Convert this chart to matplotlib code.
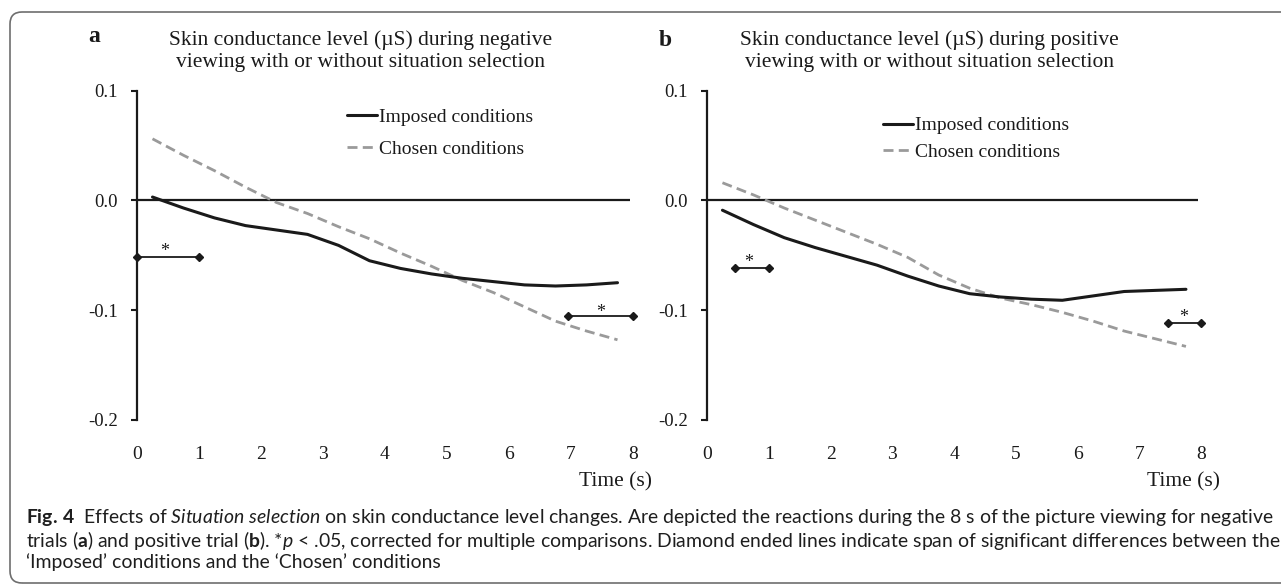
import matplotlib
matplotlib.use("Agg")
import matplotlib.pyplot as plt
from matplotlib.patches import FancyBboxPatch
from matplotlib.transforms import IdentityTransform

# ---------------- data ----------------
time_s = [0.25, 0.75, 1.25, 1.75, 2.25, 2.75, 3.25, 3.75,
          4.25, 4.75, 5.25, 5.75, 6.25, 6.75, 7.25, 7.75]

neg_imposed = [0.003, -0.007, -0.016, -0.023, -0.027, -0.031, -0.041, -0.055,
               -0.062, -0.067, -0.071, -0.074, -0.077, -0.078, -0.077, -0.075]
neg_chosen = [0.056, 0.041, 0.027, 0.012, -0.002, -0.012, -0.024, -0.035,
              -0.048, -0.060, -0.073, -0.084, -0.097, -0.110, -0.119, -0.127]

pos_imposed = [-0.009, -0.022, -0.034, -0.043, -0.051, -0.059, -0.069, -0.078,
               -0.085, -0.088, -0.090, -0.091, -0.087, -0.083, -0.082, -0.081]
pos_chosen = [0.016, 0.005, -0.007, -0.018, -0.029, -0.040, -0.052, -0.068,
              -0.080, -0.089, -0.095, -0.102, -0.110, -0.119, -0.126, -0.133]

x_ticks = [0, 1, 2, 3, 4, 5, 6, 7, 8]
x_tick_labels = ["0", "1", "2", "3", "4", "5", "6", "7", "8"]
y_ticks = [-0.2, -0.1, 0.0, 0.1]
y_tick_labels = ["-0.2", "-0.1", "0.0", "0.1"]
series_labels = ["Imposed conditions", "Chosen conditions"]
x_label = "Time (s)"

# significance spans: (start, end, level) and star positions (x, y)
neg_sig_spans = [(0.0, 1.0, -0.0515), (6.95, 8.0, -0.1055)]
neg_sig_stars = [(0.45, -0.042), (7.47, -0.0976)]
pos_sig_spans = [(0.45, 1.0, -0.062), (7.46, 8.0, -0.1115)]
pos_sig_stars = [(0.67, -0.0515), (7.72, -0.1015)]

panel_letters = ["a", "b"]
titles = [
    ["Skin conductance level (\u00b5S) during negative",
     "viewing with or without situation selection"],
    ["Skin conductance level (\u00b5S) during positive",
     "viewing with or without situation selection"],
]
caption_lines = [
    r"$\mathbf{Fig.\,4}$  Effects of $\mathit{Situation\ selection}$ on skin conductance level changes. "
    r"Are depicted the reactions during the 8 s of the picture viewing for negative",
    r"trials ($\mathbf{a}$) and positive trial ($\mathbf{b}$). *$\mathit{p}$ < .05, corrected for multiple "
    r"comparisons. Diamond ended lines indicate span of significant differences between the",
    "\u2018Imposed\u2019 conditions and the \u2018Chosen\u2019 conditions",
]

# ---------------- style ----------------
W, H = 1281, 586
plt.rcParams["mathtext.fontset"] = "custom"
plt.rcParams["mathtext.rm"] = "Lato"
plt.rcParams["mathtext.it"] = "Lato:italic"
plt.rcParams["mathtext.bf"] = "Lato:bold"

SERIF = "Liberation Serif"
INK = "#1a1a1a"
GREY = "#9a9a9a"

fig = plt.figure(figsize=(W / 100, H / 100), dpi=100)
fig.patch.set_facecolor("white")


def fx(px):
    return px / W


def fy(py):
    return 1 - py / H


# outer rounded frame
frame = FancyBboxPatch((10, 3), 1320, 571, boxstyle="round,pad=0,rounding_size=12",
                       transform=IdentityTransform(), facecolor="none",
                       edgecolor="#6e6e6e", linewidth=1.2)
fig.add_artist(frame)

panels = [
    dict(left=137, imposed=neg_imposed, chosen=neg_chosen, spans=neg_sig_spans,
         stars=neg_sig_stars, title_cx=360.5, letter=(94, 37),
         leg=(347, 133), legspace=0.74, px_per=62.0),
    dict(left=707, imposed=pos_imposed, chosen=pos_chosen, spans=pos_sig_spans,
         stars=pos_sig_stars, title_cx=929.5, letter=(665, 41),
         leg=(883, 139), legspace=0.48, px_per=61.8),
]

top_px, bot_px = 90.5, 420.0

for i, p in enumerate(panels):
    width_px = 8 * p["px_per"]
    ax = fig.add_axes([fx(p["left"]), fy(bot_px), width_px / W, (bot_px - top_px) / H])
    ax.set_xlim(0, 8)
    ax.set_ylim(-0.2, 0.1)
    for s in ["top", "right", "bottom"]:
        ax.spines[s].set_visible(False)
    ax.spines["left"].set_linewidth(1.6)
    ax.spines["left"].set_color(INK)
    ax.patch.set_alpha(0)

    ax.hlines(0, 0, 7.95, color=INK, linewidth=1.6, zorder=1)

    ax.plot(time_s, p["chosen"], color=GREY, linewidth=2.0, linestyle=(0, (3.6, 1.9)),
            label=series_labels[1], zorder=3, solid_capstyle="butt")
    ax.plot(time_s, p["imposed"], color=INK, linewidth=2.2, label=series_labels[0],
            zorder=4, solid_capstyle="round")

    for (x0, x1, yv) in p["spans"]:
        ax.plot([x0, x1], [yv, yv], color=INK, linewidth=1.3, marker="D",
                markersize=3.6, clip_on=False, zorder=5)
    for (xs, ys) in p["stars"]:
        ax.annotate("*", (xs, ys), xytext=(0, -7), textcoords="offset points",
                    ha="center", va="baseline", fontsize=13, family=SERIF, color=INK,
                    annotation_clip=False)

    ax.set_yticks(y_ticks, y_tick_labels)
    ax.set_xticks(x_ticks, x_tick_labels)
    ax.tick_params(axis="y", direction="out", length=4.3, width=1.5, pad=9.5,
                   labelsize=13.5, colors=INK)
    ax.tick_params(axis="x", length=0, pad=19, labelsize=14, colors=INK)
    for lab in ax.get_xticklabels() + ax.get_yticklabels():
        lab.set_family(SERIF)

    # x axis title
    ax.text(0.9645, (bot_px - 481.5) / (bot_px - top_px),
            x_label, transform=ax.transAxes, ha="center", va="center",
            fontsize=15.5, family=SERIF, color=INK)

    # legend
    handles, labels = ax.get_legend_handles_labels()
    order = [1, 0]
    lx = (p["leg"][0] - p["left"]) / width_px
    ly = (bot_px - p["leg"][1]) / (bot_px - top_px)
    ax.legend([handles[k] for k in order], [labels[k] for k in order],
              loc="center left", bbox_to_anchor=(lx, ly), frameon=False,
              prop={"family": SERIF, "size": 14}, handlelength=1.55,
              handletextpad=0.1, borderpad=0, borderaxespad=0,
              labelspacing=p["legspace"], labelcolor=INK)

    # title
    fig.text(fx(p["title_cx"]), fy(40), titles[i][0], ha="center", va="center",
             fontsize=15.5, family=SERIF, color=INK)
    fig.text(fx(p["title_cx"]), fy(62), titles[i][1], ha="center", va="center",
             fontsize=15.5, family=SERIF, color=INK)
    fig.text(fx(p["letter"][0]), fy(p["letter"][1]), panel_letters[i], ha="center",
             va="center", fontsize=17, family=SERIF, weight="bold", color=INK)

# caption
cap_y = [517, 540, 562]
cap_texts = []
for k, line in enumerate(caption_lines):
    t = fig.text(fx(26), fy(cap_y[k]), line, ha="left", va="center", fontsize=12.5,
                 family="Lato", color="#1e1e1e")
    cap_texts.append(t)

fig.canvas.draw()
r = fig.canvas.get_renderer()
w0 = cap_texts[0].get_window_extent(r).width
scale = (1273 - 26) / w0
for t in cap_texts:
    t.set_fontsize(t.get_fontsize() * scale)

fig.savefig("out.png", dpi=100)
